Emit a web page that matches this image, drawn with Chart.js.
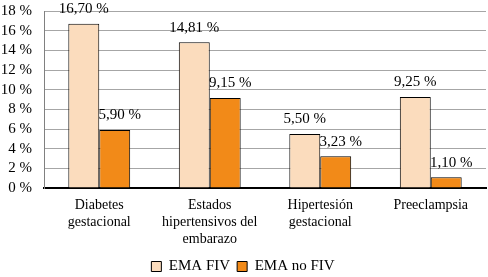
<!DOCTYPE html>
<html>
<head>
<meta charset="utf-8">
<script src="https://cdn.jsdelivr.net/npm/chart.js@4"></script>
<style>
  html, body { margin: 0; padding: 0; background: #fff; }
  #wrap { width: 488px; height: 277px; }
</style>
</head>
<body>
<div id="wrap"><canvas id="chart" width="488" height="277"></canvas></div>
<script>
const categories = [
  ['Diabetes', 'gestacional'],
  ['Estados', 'hipertensivos del', 'embarazo'],
  ['Hipertesión', 'gestacional'],
  ['Preeclampsia']
];
const emaFiv = [16.70, 14.81, 5.50, 9.25];
const emaNoFiv = [5.90, 9.15, 3.23, 1.10];
const yTicks = [0, 2, 4, 6, 8, 10, 12, 14, 16, 18];

const serif = "'Liberation Serif', 'DejaVu Serif', serif";

// draws the value above each bar
const barLabels = {
  id: 'barLabels',
  afterDatasetsDraw(chart) {
    const ctx = chart.ctx;
    ctx.save();
    ctx.font = '15px ' + serif;
    ctx.fillStyle = '#000';
    ctx.textAlign = 'center';
    ctx.textBaseline = 'bottom';
    chart.data.datasets.forEach((ds, i) => {
      const meta = chart.getDatasetMeta(i);
      meta.data.forEach((bar, j) => {
        const txt = ds.data[j].toFixed(2).replace('.', ',') + ' %';
        ctx.fillText(txt, bar.x + (i === 1 ? 5 : 0), bar.y - 7);
      });
    });
    ctx.restore();
  }
};

new Chart(document.getElementById('chart'), {
  type: 'bar',
  data: {
    labels: categories,
    datasets: [
      {
        label: 'EMA FIV',
        data: emaFiv,
        backgroundColor: '#fbdcbd',
        borderColor: '#000',
        borderWidth: 1,
        barPercentage: 1,
        categoryPercentage: 0.56
      },
      {
        label: 'EMA no FIV',
        data: emaNoFiv,
        backgroundColor: '#f28a18',
        borderColor: '#000',
        borderWidth: 1,
        barPercentage: 1,
        categoryPercentage: 0.56
      }
    ]
  },
  options: {
    responsive: false,
    animation: false,
    layout: { padding: { top: 11, right: 2, bottom: -7, left: 0 } },
    plugins: {
      legend: {
        position: 'bottom',
        labels: {
          font: { family: serif, size: 15 },
          color: '#000',
          boxWidth: 10,
          boxHeight: 10,
          padding: 7,
          useBorderRadius: false
        }
      },
      tooltip: { enabled: false }
    },
    scales: {
      x: {
        grid: { display: false },
        border: { color: '#000', width: 2 },
        ticks: {
          font: { family: serif, size: 14 },
          color: '#000',
          maxRotation: 0,
          autoSkip: false,
          padding: 1
        },
        afterFit(scale) { scale.height = 64; }
      },
      y: {
        min: 0,
        max: 18,
        afterBuildTicks(scale) { scale.ticks = yTicks.map(v => ({ value: v })); },
        grid: { color: '#a6a6a6', drawTicks: false },
        border: { color: '#808080', width: 1 },
        ticks: {
          font: { family: serif, size: 15 },
          color: '#000',
          padding: 12,
          autoSkip: false,
          callback: v => v + ' %'
        },
        afterFit(scale) {
          scale.width = 44;
          scale.paddingTop = 0;
          scale.paddingBottom = 0;
        }
      }
    }
  },
  plugins: [barLabels]
});
</script>
</body>
</html>
